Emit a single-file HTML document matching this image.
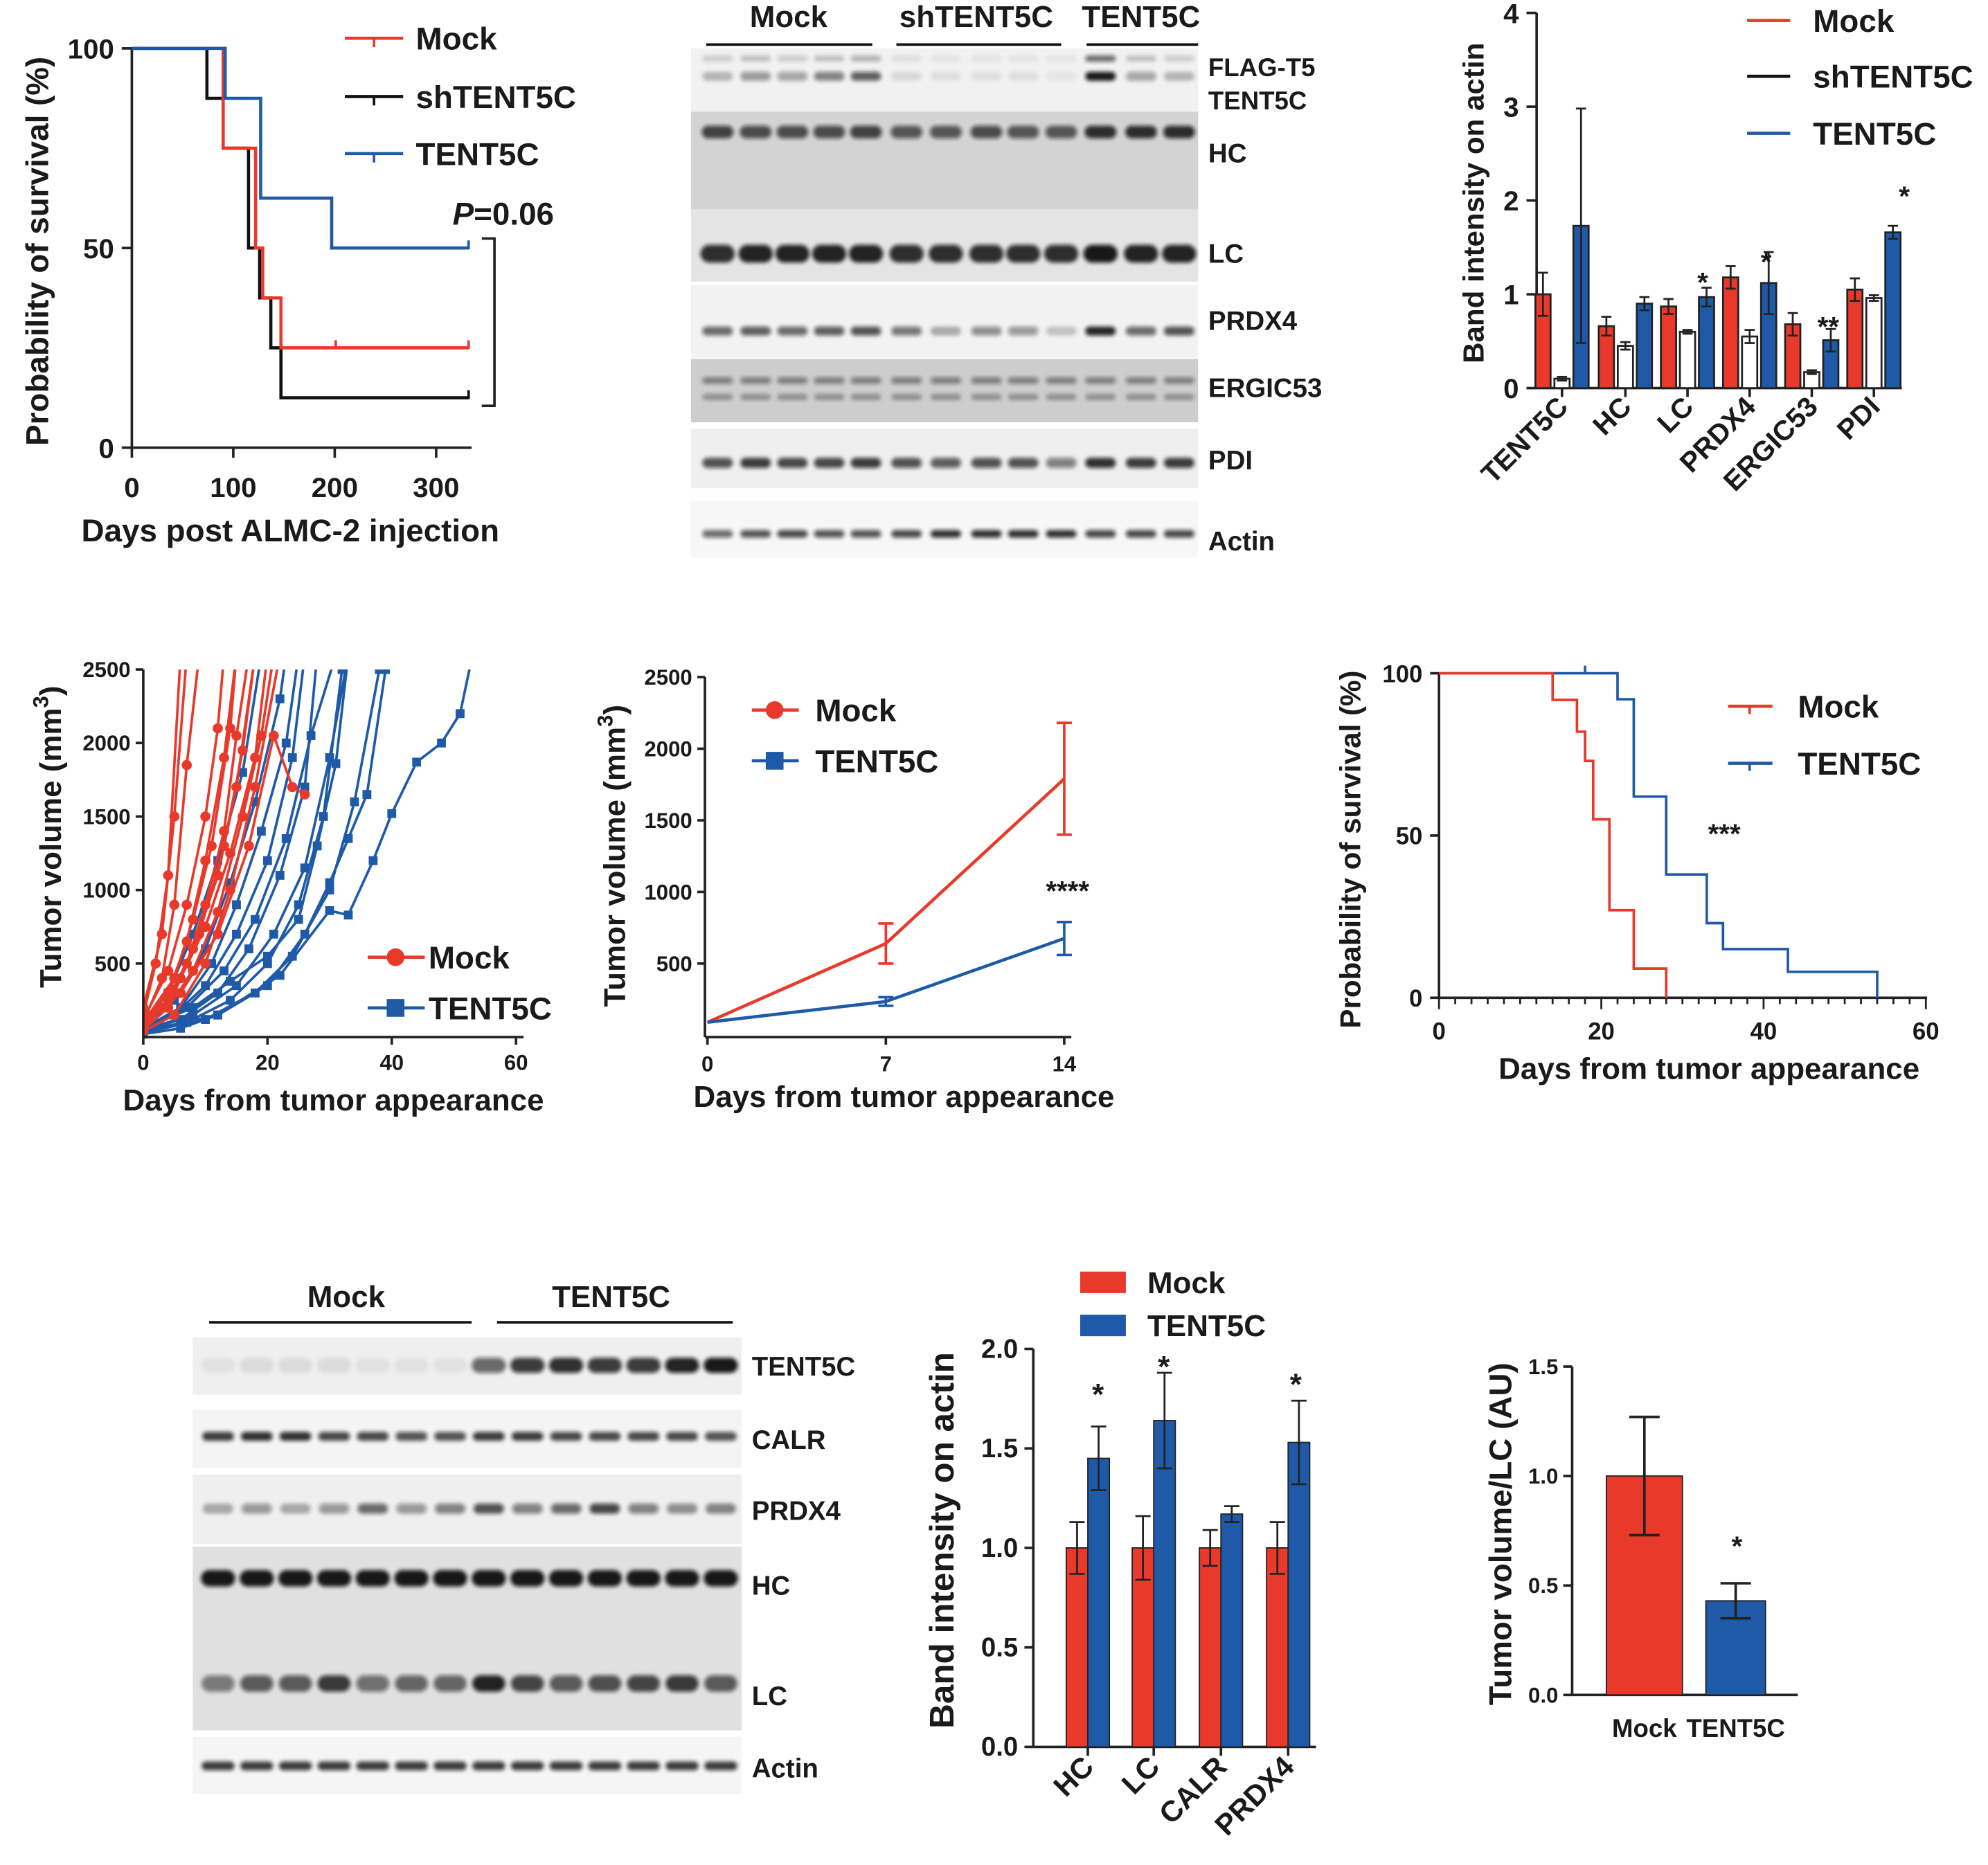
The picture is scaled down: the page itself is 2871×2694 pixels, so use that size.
<!DOCTYPE html>
<html><head><meta charset="utf-8"><style>
html,body{margin:0;padding:0;background:#fff}
svg{display:block}
text{font-family:"Liberation Sans",Arial,sans-serif;font-weight:bold;fill:#1a1a1a}
</style></head><body>
<svg id="fig" xmlns="http://www.w3.org/2000/svg" width="2871" height="2694" viewBox="0 0 1568 1471">
<defs>
<filter id="blur" x="-20%" y="-50%" width="140%" height="200%"><feGaussianBlur stdDeviation="1.6"/></filter>
<clipPath id="clipD"><rect x="113" y="528" width="300" height="292"/></clipPath>
</defs>
</svg>
<script>
// ---------- data ----------
// Panel A KM
const aMockT=[90,122,129,147,332], aMockS=[75,50,37.5,25,25];
const aShT=[74,90,115,126,137,147,332], aShS=[87.5,75,50,37.5,25,12.5,12.5];
const aTentT=[92,127,197,332], aTentS=[87.5,62.5,50,50];
const aTicksX=[0,100,200,300], aTicksY=[0,50,100];
// Panel C bars
const cCats=["TENT5C","HC","LC","PRDX4","ERGIC53","PDI"];
const cMock=[1.0,0.66,0.87,1.18,0.68,1.05], cMockErr=[0.23,0.1,0.08,0.12,0.12,0.12];
const cSh=[0.1,0.45,0.6,0.55,0.17,0.96], cShErr=[0.02,0.04,0.02,0.07,0.02,0.03];
const cTent=[1.73,0.9,0.97,1.12,0.51,1.66], cTentErr=[1.25,0.07,0.1,0.33,0.12,0.07];
const cTicks=[0,1,2,3,4];
// Panel D spaghetti
const dRed=[
[[0,100],[3,400],[5,900],[7,1850],[9,2600]],
[[0,150],[2,500],[4,1100],[6,2600]],
[[0,200],[3,700],[5,1500],[7,2600]],
[[0,120],[4,450],[7,900],[10,1500],[12,2100],[13,2600]],
[[0,80],[4,300],[7,650],[10,1200],[13,1900],[15,2600]],
[[0,100],[5,400],[8,800],[11,1300],[14,2100],[15,2600]],
[[0,60],[3,200],[7,500],[10,900],[13,1400],[15,2050],[17,2600]],
[[0,90],[4,250],[8,600],[12,1100],[15,1700],[18,2600]],
[[0,70],[5,300],[9,700],[13,1300],[16,1950],[18,2600]],
[[0,50],[4,200],[8,450],[12,850],[16,1500],[19,2050],[21,2600]],
[[0,110],[6,400],[10,750],[14,1250],[18,1900],[20,2600]],
[[0,40],[5,150],[10,500],[14,1000],[18,1700],[22,2600]],
[[0,80],[6,300],[12,700],[17,1300],[21,2050],[24,1700],[26,1650]]];
const dBlue=[
[[0,100],[4,300],[8,700],[12,1200],[16,1800],[19,2600]],
[[0,80],[5,250],[10,600],[14,1050],[18,1600],[22,2300],[23,2600]],
[[0,60],[6,200],[11,500],[15,900],[19,1400],[23,2000],[25,2600]],
[[0,50],[5,150],[10,350],[15,700],[20,1200],[24,1900],[26,2600]],
[[0,40],[6,120],[12,300],[17,600],[22,1100],[26,1700],[28,2600]],
[[0,70],[7,200],[13,450],[18,800],[23,1350],[27,2050],[31,2600]],
[[0,30],[7,100],[14,250],[20,500],[25,900],[29,1500],[32,2500]],
[[0,50],[8,150],[15,350],[21,700],[26,1150],[30,1900],[33,2600]],
[[0,20],[6,60],[12,150],[18,300],[24,550],[30,1000],[34,1600],[38,2500]],
[[0,30],[10,120],[20,350],[26,700],[30,1050],[33,1350],[36,1650],[39,2500]],
[[0,40],[12,150],[22,420],[30,860],[33,830],[37,1200],[40,1520],[44,1870],[48,2000],[51,2200],[53,2600]],
[[0,60],[8,200],[14,380],[20,550],[25,800],[28,1300],[31,1860],[33,2600]]];
const dTicksX=[0,20,40,60], dTicksY=[500,1000,1500,2000,2500];
// Panel E mean growth
const eDays=[0,7,14];
const eMock=[90,640,1790], eMockErr=[0,140,390];
const eTent=[90,235,675], eTentErr=[0,30,115];
const eTicksY=[500,1000,1500,2000,2500];
// Panel F KM
const fMockT=[14,17,18,19,21,24,28], fMockS=[91.8,82,73,55,27,9,0];
const fTentT=[22,24,28,33,35,43,54], fTentS=[92,62,38,23,15,8,0];
const fTicksX=[0,20,40,60], fTicksY=[0,50,100];
// Panel H bars
const hCats=["HC","LC","CALR","PRDX4"];
const hMock=[1,1,1,1], hMockErr=[0.13,0.16,0.09,0.13];
const hTent=[1.45,1.64,1.17,1.53], hTentErr=[0.16,0.24,0.04,0.21];
const hTicks=[0,0.5,1.0,1.5,2.0];
// Panel I bars
const iCats=["Mock","TENT5C"], iVals=[1.0,0.43], iErr=[0.27,0.08];
const iTicks=[0,0.5,1.0,1.5];

// ---------- helpers ----------
const NS="http://www.w3.org/2000/svg", svg=document.getElementById('fig');
const RED="#e8392b", BLUE="#1f5aa8";
function mk(tag,attrs,name,parent){const el=document.createElementNS(NS,tag);
 for(const k in attrs)el.setAttribute(k,attrs[k]);
 
 
 (parent||svg).appendChild(el);return el;}
function txt(x,y,s,size,anchor,name,rot){const el=mk('text',{x:x,y:y,'font-size':size,'text-anchor':anchor||'start'},name);
 if(rot!==undefined)el.setAttribute('transform','rotate('+rot+' '+x+' '+y+')');el.textContent=s;return el;}
function line(x1,y1,x2,y2,c,w,name){return mk('line',{x1:x1,y1:y1,x2:x2,y2:y2,stroke:c,'stroke-width':w||2},name);}
function fmt(v,d){return v.toFixed(d);}

// ---------- Panel A ----------
(function(){const X=d=>104+0.8*d, Y=s=>353-3.15*s;
line(104,38,104,353,'#222',2,'a-y-axis');line(104,353,372,353,'#222',2,'a-x-axis');
aTicksY.forEach(v=>{line(96,Y(v),104,Y(v),'#222',2,'a-y-tick');txt(90,Y(v)+8,String(v),22,'end','a-y-tick-label');});
aTicksX.forEach(v=>{line(X(v),353,X(v),361,'#222',2,'a-x-tick');txt(X(v),392,String(v),22,'middle','a-x-tick-label');});
txt(229,427,'Days post ALMC-2 injection',25,'middle','a-x-axis-title');
txt(38,198,'Probability of survival (%)',25,'middle','a-y-axis-title',-90);
function km(T,S,c,name){let d='M'+X(0)+' '+Y(100);T.forEach((t,i)=>{d+=' H'+X(t)+' V'+Y(S[i]);});mk('path',{d:d,fill:'none',stroke:c,'stroke-width':2.5},name);
 const e=T[T.length-1];line(X(e),Y(S[S.length-1])-6,X(e),Y(S[S.length-1])+1,c,2,name+'-censor');}
km(aShT,aShS,'#111','a-curve-shtent5c');km(aMockT,aMockS,RED,'a-curve-mock');km(aTentT,aTentS,BLUE,'a-curve-tent5c');
line(X(201),Y(25)-6,X(201),Y(25),RED,2,'a-censor-mock');
[['Mock',RED,30],['shTENT5C','#111',76],['TENT5C',BLUE,121]].forEach(l=>{line(272,l[2],318,l[2],l[1],2.5,'a-legend-line');line(295,l[2],295,l[2]+7,l[1],2,'a-legend-tick');txt(328,l[2]+9,l[0],25,'start','a-legend-label');});
const p=txt(357,177,'',25,'start','a-p-value');p.innerHTML='<tspan font-style="italic">P</tspan>=0.06';
mk('path',{d:'M380 188 H390 V320 H380',fill:'none',stroke:'#222','stroke-width':2},'a-bracket');
})();

// ---------- blot helper ----------
function strip(x0,x1,y0,y1,bg,name,label,ly){mk('rect',{x:x0,y:y0,width:x1-x0,height:y1-y0,fill:bg},name);if(label)txt(x1+8,ly,label,21,'start',name+'-label');}
function bands(lanes,y,h,w,alphas,name){lanes.forEach((x,i)=>{mk('rect',{x:x-w/2,y:y-h/2,width:w,height:h,rx:h/2,fill:'#111','fill-opacity':alphas[i],filter:'url(#blur)'},name);});}

// ---------- Panel B ----------
(function(){const L=[566,596,625,654,683,715,746,778,807,837,868,900,930];
txt(622,21,'Mock',24,'middle','b-header-mock');txt(770,21,'shTENT5C',24,'middle','b-header-shtent5c');txt(900,21,'TENT5C',24,'middle','b-header-tent5c');
line(557,35,688,35,'#111',2,'b-header-line');line(707,35,837,35,'#111',2,'b-header-line');line(857,35,945,35,'#111',2,'b-header-line');
strip(545,945,38,88,'#f1f1f1','b-strip-flag');txt(953,60,'FLAG-T5',20,'start','b-label-flag');txt(953,86,'TENT5C',20,'start','b-label-tent5c');
bands(L,46,5,24,[.15,.2,.15,.2,.25,.08,.06,.06,.06,.05,.6,.2,.15],'b-band-flag');
bands(L,60,7,24,[.25,.4,.35,.5,.65,.1,.08,.08,.08,.05,.95,.35,.25],'b-band-tent5c');
strip(545,945,88,165,'#d3d3d3','b-strip-hc','HC',128);
bands(L,104,10,25,[.75,.7,.7,.7,.75,.65,.65,.7,.65,.65,.85,.85,.85],'b-band-hc');
strip(545,945,165,222,'#e4e4e4','b-strip-lc','LC',207);
bands(L,200,14,27,[.85,.9,.9,.9,.9,.85,.85,.85,.85,.85,.95,.9,.9],'b-band-lc');
strip(545,945,225,282,'#f2f2f2','b-strip-prdx4','PRDX4',260);
bands(L,261,7,24,[.6,.65,.6,.65,.7,.55,.3,.45,.4,.2,.9,.6,.7],'b-band-prdx4');
strip(545,945,283,333,'#cdcdcd','b-strip-ergic53','ERGIC53',313);
bands(L,300,5,24,Array(13).fill(.45),'b-band-ergic53');bands(L,313,5,24,Array(13).fill(.3),'b-band-ergic53-lower');
strip(545,945,338,385,'#efefef','b-strip-pdi','PDI',370);
bands(L,365,8,24,[.7,.8,.75,.75,.8,.7,.65,.7,.7,.5,.85,.8,.8],'b-band-pdi');
strip(545,945,395,440,'#f7f7f7','b-strip-actin','Actin',434);
bands(L,421,6,24,[.6,.7,.75,.7,.7,.75,.85,.85,.85,.85,.75,.75,.75],'b-band-actin');
})();

// ---------- Panel C ----------
(function(){const Y=v=>306-74*v, cx=[1232,1282,1331,1380,1429,1478];
line(1212,10,1212,306,'#222',2,'c-y-axis');line(1212,306,1500,306,'#222',2,'c-x-axis');
cTicks.forEach(v=>{line(1204,Y(v),1212,Y(v),'#222',2,'c-y-tick');txt(1198,Y(v)+8,String(v),22,'end','c-y-tick-label');});
txt(1170,160,'Band intensity on actin',23,'middle','c-y-axis-title',-90);
function bar(x,v,e,fill,stroke,name){mk('rect',{x:x-6,y:Y(v),width:12,height:306-Y(v),fill:fill,stroke:stroke,'stroke-width':1.5},name);
 line(x,Y(v),x,Y(v+e),'#222',1.5,name+'-error');line(x-4,Y(v+e),x+4,Y(v+e),'#222',1.5,name+'-error-cap');line(x,Y(v),x,Y(v-e),'#222',1.5,name+'-error');line(x-4,Y(v-e),x+4,Y(v-e),'#222',1.5,name+'-error-cap');}
cCats.forEach((c,i)=>{bar(cx[i]-15,cMock[i],cMockErr[i],RED,'#222','c-bar-mock');bar(cx[i],cSh[i],cShErr[i],'#fff','#222','c-bar-shtent5c');bar(cx[i]+15,cTent[i],cTentErr[i],BLUE,'#222','c-bar-tent5c');
 line(cx[i],306,cx[i],313,'#222',2,'c-x-tick');txt(cx[i]+6,322,c,22,'end','c-x-tick-label',-45);});
txt(1343,230,'*',22,'middle','c-sig-lc');txt(1393,214,'*',22,'middle','c-sig-prdx4');txt(1442,265,'**',22,'middle','c-sig-ergic53');txt(1502,162,'*',22,'middle','c-sig-pdi');
[['Mock',RED,16],['shTENT5C','#111',60],['TENT5C',BLUE,105]].forEach(l=>{line(1378,l[2],1412,l[2],l[1],2.5,'c-legend-line');txt(1430,l[2]+9,l[0],25,'start','c-legend-label');});
})();

// ---------- Panel D ----------
(function(){const X=d=>113+4.9*d, Y=v=>818-0.116*v;
const g=mk('g',{'clip-path':'url(#clipD)'},'d-series-group');
function series(arr,c,sq,name){arr.forEach(s=>{mk('polyline',{points:s.map(p=>X(p[0])+','+Y(p[1])).join(' '),fill:'none',stroke:c,'stroke-width':2},name+'-line',g);
 s.forEach(p=>{if(sq)mk('rect',{x:X(p[0])-3.5,y:Y(p[1])-3.5,width:7,height:7,fill:c},name+'-point',g);else mk('circle',{cx:X(p[0]),cy:Y(p[1]),r:4,fill:c},name+'-point',g);});});}
series(dBlue,BLUE,true,'d-tent5c');series(dRed,RED,false,'d-mock');
line(113,528,113,818,'#222',2,'d-y-axis');line(113,818,413,818,'#222',2,'d-x-axis');
dTicksY.forEach(v=>{line(107,Y(v),113,Y(v),'#222',2,'d-y-tick');txt(103,Y(v)+6,String(v),17,'end','d-y-tick-label');});
dTicksX.forEach(v=>{line(X(v),818,X(v),824,'#222',2,'d-x-tick');txt(X(v),844,String(v),17,'middle','d-x-tick-label');});
txt(263,876,'Days from tumor appearance',24,'middle','d-x-axis-title');
const yt=txt(48,660,'',24,'middle','d-y-axis-title',-90);yt.innerHTML='Tumor volume (mm<tspan dy="-10" font-size="17">3</tspan><tspan dy="10">)</tspan>';
line(290,755,335,755,RED,2.5,'d-legend-line-mock');mk('circle',{cx:312,cy:755,r:7,fill:RED},'d-legend-marker-mock');txt(338,764,'Mock',25,'start','d-legend-label-mock');
line(290,795,335,795,BLUE,2.5,'d-legend-line-tent5c');mk('rect',{x:305,y:788,width:14,height:14,fill:BLUE},'d-legend-marker-tent5c');txt(338,804,'TENT5C',25,'start','d-legend-label-tent5c');
})();

// ---------- Panel E ----------
(function(){const X=d=>558+20.1*d, Y=v=>816.5-0.113*v;
line(556,534,556,818,'#222',2,'e-y-axis');line(556,818,845,818,'#222',2,'e-x-axis');
eTicksY.forEach(v=>{line(550,Y(v),556,Y(v),'#222',2,'e-y-tick');txt(546,Y(v)+6,String(v),17,'end','e-y-tick-label');});
eDays.forEach(v=>{line(X(v),818,X(v),824,'#222',2,'e-x-tick');txt(X(v),845,String(v),17,'middle','e-x-tick-label');});
function s(vals,err,c,name){mk('polyline',{points:eDays.map((d,i)=>X(d)+','+Y(vals[i])).join(' '),fill:'none',stroke:c,'stroke-width':2.5},name+'-line');
 eDays.forEach((d,i)=>{if(err[i]>0){line(X(d),Y(vals[i]-err[i]),X(d),Y(vals[i]+err[i]),c,2,name+'-error');line(X(d)-6,Y(vals[i]+err[i]),X(d)+6,Y(vals[i]+err[i]),c,2,name+'-error-cap');line(X(d)-6,Y(vals[i]-err[i]),X(d)+6,Y(vals[i]-err[i]),c,2,name+'-error-cap');}});}
s(eMock,eMockErr,RED,'e-mock');s(eTent,eTentErr,BLUE,'e-tent5c');
txt(842,710,'****',22,'middle','e-significance');
txt(713,873,'Days from tumor appearance',24,'middle','e-x-axis-title');
const yt=txt(493,675,'',24,'middle','e-y-axis-title',-90);yt.innerHTML='Tumor volume (mm<tspan dy="-10" font-size="17">3</tspan><tspan dy="10">)</tspan>';
line(593,560,630,560,RED,2.5,'e-legend-line-mock');mk('circle',{cx:611,cy:560,r:7,fill:RED},'e-legend-marker-mock');txt(643,569,'Mock',25,'start','e-legend-label-mock');
line(593,600,630,600,BLUE,2.5,'e-legend-line-tent5c');mk('rect',{x:604,y:593,width:14,height:14,fill:BLUE},'e-legend-marker-tent5c');txt(643,609,'TENT5C',25,'start','e-legend-label-tent5c');
})();

// ---------- Panel F ----------
(function(){const X=d=>1135+6.4*d, Y=s=>787-2.56*s;
line(1135,531,1135,787,'#222',2,'f-y-axis');line(1135,787,1520,787,'#222',2,'f-x-axis');
fTicksY.forEach(v=>{line(1128,Y(v),1135,Y(v),'#222',2,'f-y-tick');txt(1122,Y(v)+7,String(v),19,'end','f-y-tick-label');});
for(let d=0;d<=60;d+=2)line(X(d),787,X(d),d%20===0?796:792,'#222',1.5,'f-x-tick');
fTicksX.forEach(v=>txt(X(v),820,String(v),19,'middle','f-x-tick-label'));
function km(T,S,c,name){let d='M'+X(0)+' '+Y(100);T.forEach((t,i)=>{d+=' H'+X(t)+' V'+Y(S[i]);});mk('path',{d:d,fill:'none',stroke:c,'stroke-width':2},name);}
km(fTentT,fTentS,BLUE,'f-curve-tent5c');km(fMockT,fMockS,RED,'f-curve-mock');
line(X(18),Y(100)-6,X(18),Y(100),BLUE,2,'f-censor-tent5c');
txt(1360,665,'***',22,'middle','f-significance');
txt(1348,851,'Days from tumor appearance',24,'middle','f-x-axis-title');
txt(1073,670,'Probability of survival (%)',23,'middle','f-y-axis-title',-90);
[['Mock',RED,557],['TENT5C',BLUE,602]].forEach(l=>{line(1363,l[2],1398,l[2],l[1],2.5,'f-legend-line');line(1380,l[2],l[2]===557?1380:1380,l[2]+6,l[1],2,'f-legend-tick');txt(1418,l[2]+9,l[0],25,'start','f-legend-label');});
})();

// ---------- Panel G ----------
(function(){const L=[];for(let i=0;i<14;i++)L.push(172+i*30.5);
txt(273,1031,'Mock',24,'middle','g-header-mock');txt(482,1031,'TENT5C',24,'middle','g-header-tent5c');
line(165,1043,372,1043,'#111',2,'g-header-line');line(392,1043,578,1043,'#111',2,'g-header-line');
strip(152,585,1055,1100,'#efefef','g-strip-tent5c','TENT5C',1085);
bands(L,1077,12,27,[.06,.08,.08,.08,.06,.06,.06,.6,.8,.85,.8,.85,.9,.6].map((a,i)=>i>=7?[.6,.8,.85,.8,.8,.9,.95][i-7]:a),'g-band-tent5c');
strip(152,585,1112,1158,'#f4f4f4','g-strip-calr','CALR',1143);
bands(L,1133,7,25,[.8,.85,.85,.75,.75,.7,.7,.8,.8,.75,.75,.75,.75,.7],'g-band-calr');
strip(152,585,1163,1218,'#efefef','g-strip-prdx4','PRDX4',1199);
bands(L,1190,8,24,[.3,.4,.3,.4,.6,.4,.5,.7,.5,.6,.75,.5,.45,.5],'g-band-prdx4');
strip(152,585,1220,1365,'#e0e0e0','g-strip-hc-lc');txt(593,1258,'HC',21,'start','g-label-hc');txt(593,1345,'LC',21,'start','g-label-lc');
bands(L,1245,13,27,Array(14).fill(.95),'g-band-hc');
bands(L,1328,13,26,[.5,.65,.65,.8,.55,.6,.6,.9,.75,.65,.7,.75,.8,.65],'g-band-lc');
strip(152,585,1370,1415,'#f5f5f5','g-strip-actin','Actin',1402);
bands(L,1393,7,26,Array(14).fill(.8),'g-band-actin');
})();

// ---------- Panel H ----------
(function(){const Y=v=>1378-157*v, cx=[858,910,963,1016];
line(815,1064,815,1378,'#222',2,'h-y-axis');line(815,1378,1038,1378,'#222',2,'h-x-axis');
hTicks.forEach(v=>{line(808,Y(v),815,Y(v),'#222',2,'h-y-tick');txt(803,Y(v)+7,fmt(v,1),21,'end','h-y-tick-label');});
txt(752,1215,'Band intensity on actin',27,'middle','h-y-axis-title',-90);
function bar(x,v,e,fill,name){mk('rect',{x:x,y:Y(v),width:17,height:1378-Y(v),fill:fill,stroke:'#222','stroke-width':1},name);const m=x+8.5;
 line(m,Y(v-e),m,Y(v+e),'#222',1.5,name+'-error');line(m-6,Y(v+e),m+6,Y(v+e),'#222',1.5,name+'-error-cap');line(m-6,Y(v-e),m+6,Y(v-e),'#222',1.5,name+'-error-cap');}
hCats.forEach((c,i)=>{bar(cx[i]-17,hMock[i],hMockErr[i],RED,'h-bar-mock');bar(cx[i],hTent[i],hTentErr[i],BLUE,'h-bar-tent5c');
 line(cx[i],1378,cx[i],1385,'#222',2,'h-x-tick');txt(cx[i]+6,1395,c,23,'end','h-x-tick-label',-45);});
txt(866,1108,'*',24,'middle','h-sig-hc');txt(918,1086,'*',24,'middle','h-sig-lc');txt(1022,1100,'*',24,'middle','h-sig-prdx4');
mk('rect',{x:852,y:1003,width:36,height:17,fill:RED},'h-legend-swatch-mock');txt(905,1020,'Mock',24,'start','h-legend-label-mock');
mk('rect',{x:852,y:1037,width:36,height:17,fill:BLUE},'h-legend-swatch-tent5c');txt(905,1054,'TENT5C',24,'start','h-legend-label-tent5c');
})();

// ---------- Panel I ----------
(function(){const Y=v=>1337-172.7*v, cx=[1297,1369], w=[60,47];
line(1240,1078,1240,1337,'#222',2,'i-y-axis');line(1240,1337,1418,1337,'#222',2,'i-x-axis');
iTicks.forEach(v=>{line(1233,Y(v),1240,Y(v),'#222',2,'i-y-tick');txt(1229,Y(v)+6,fmt(v,1),17,'end','i-y-tick-label');});
txt(1192,1210,'Tumor volume/LC (AU)',25,'middle','i-y-axis-title',-90);
iCats.forEach((c,i)=>{mk('rect',{x:cx[i]-w[i]/2,y:Y(iVals[i]),width:w[i],height:1337-Y(iVals[i]),fill:i?BLUE:RED,stroke:'#222','stroke-width':1},'i-bar-'+c.toLowerCase());
 const t=Y(iVals[i]+iErr[i]),b=Y(iVals[i]-iErr[i]);line(cx[i],t,cx[i],b,'#222',2,'i-error');line(cx[i]-12,t,cx[i]+12,t,'#222',2,'i-error-cap');line(cx[i]-12,b,cx[i]+12,b,'#222',2,'i-error-cap');
 txt(cx[i],1370,c,20,'middle','i-x-tick-label');});
txt(1370,1227,'*',22,'middle','i-significance');
})();
</script>
</body></html>
